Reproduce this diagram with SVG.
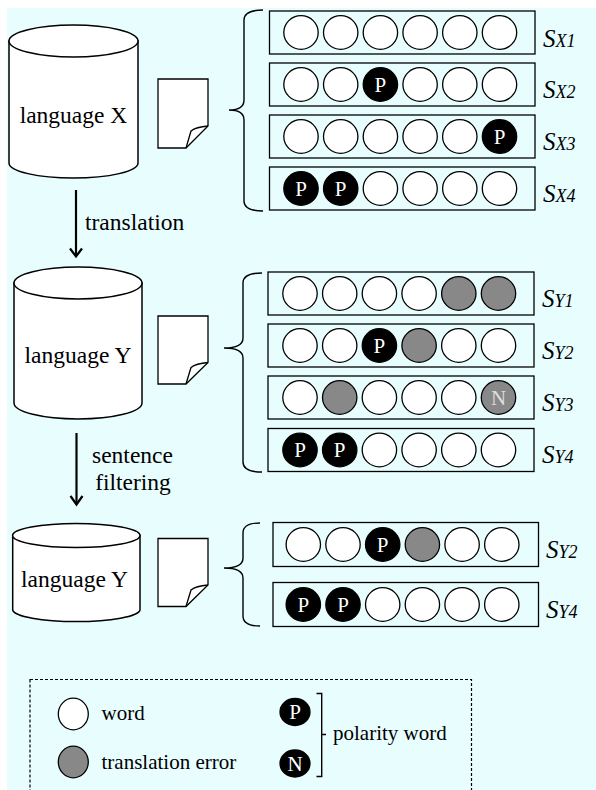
<svg xmlns="http://www.w3.org/2000/svg" xmlns:xlink="http://www.w3.org/1999/xlink" width="596" height="790" viewBox="0 0 596 790">
  <style>
    .bg { fill: #E8FEFE; }
    .db { fill: #FFFFFF; stroke: #000; stroke-width: 1.5; }
    .doc { fill: #FFFFFF; stroke: #000; stroke-width: 1.3; stroke-linejoin: miter; }
    .fold { fill: none; stroke: #000; stroke-width: 1.3; }
    .brace { fill: none; stroke: #000; stroke-width: 1.4; }
    .row { fill: #E8FEFE; stroke: #000; stroke-width: 1.3; }
    .w { fill: #FFFFFF; stroke: #000; stroke-width: 1.3; }
    .g { fill: #888888; stroke: #000; stroke-width: 1.3; }
    .k { fill: #000000; stroke: #000; stroke-width: 1.3; }
    text { font-family: "Liberation Serif", Tinos, "Times New Roman", Times, "Nimbus Roman", "Nimbus Roman No9 L", FreeSerif, "Noto Serif", "DejaVu Serif", Georgia, serif; }
    .t { fill: #000; }
    .big { font-size: 23.5px; }
    .leg { font-size: 21px; }
    .in { font-size: 21px; fill: #FFFFFF; text-anchor: middle; }
    .inN { fill: #DDDDDD; }
    .lbl { font-style: italic; font-size: 25px; fill: #000; }
    .sub { font-size: 18px; }
    .arrow { fill: none; stroke: #000; stroke-width: 2.2; }
  </style>
  <defs>
    <ellipse id="cw" class="w" rx="17.2" ry="16.8"/>
    <ellipse id="cg" class="g" rx="17.2" ry="16.8"/>
    <ellipse id="ck" class="k" rx="17.2" ry="16.8"/>
  </defs>

  <!-- canvas -->
  <rect class="bg" x="7" y="8" width="589" height="782"/>

  <!-- source corpus -->
  <g id="db-x">
    <path class="db" d="M9,41 V163 A64.5,15 0 0 0 138,163 V41 Z"/>
    <ellipse class="db" cx="73.5" cy="41" rx="64.5" ry="16"/>
    <text class="t big" x="73.5" y="123" text-anchor="middle">language X</text>
  </g>
  <g id="doc-x">
    <path class="doc" d="M158,79 H208 V126 L186,148 H158 Z"/>
    <path class="fold" d="M208,126 Q196,127 191,131 L186,148"/>
  </g>
  <g id="brace-x">
    <path class="brace" d="M263,10 Q244,10 244,20 V100 Q244,110 229,110 Q244,110 244,120 V201 Q244,211 263,211"/>
  </g>
  <g id="sent-x">
    <rect class="row" x="269.5" y="11" width="265.5" height="43"/>
    <rect class="row" x="269.5" y="63" width="265.5" height="43"/>
    <rect class="row" x="269.5" y="115" width="265.5" height="43"/>
    <rect class="row" x="269.5" y="167" width="265.5" height="43"/>
    <!-- SX1 -->
    <use xlink:href="#cw" x="301" y="32.5"/><use xlink:href="#cw" x="340.7" y="32.5"/><use xlink:href="#cw" x="380.4" y="32.5"/>
    <use xlink:href="#cw" x="420.1" y="32.5"/><use xlink:href="#cw" x="459.8" y="32.5"/><use xlink:href="#cw" x="499.5" y="32.5"/>
    <!-- SX2 -->
    <use xlink:href="#cw" x="301" y="84.5"/><use xlink:href="#cw" x="340.7" y="84.5"/><use xlink:href="#ck" x="380.4" y="84.5"/>
    <use xlink:href="#cw" x="420.1" y="84.5"/><use xlink:href="#cw" x="459.8" y="84.5"/><use xlink:href="#cw" x="499.5" y="84.5"/>
    <text class="in" x="380.4" y="91.5">P</text>
    <!-- SX3 -->
    <use xlink:href="#cw" x="301" y="136.5"/><use xlink:href="#cw" x="340.7" y="136.5"/><use xlink:href="#cw" x="380.4" y="136.5"/>
    <use xlink:href="#cw" x="420.1" y="136.5"/><use xlink:href="#cw" x="459.8" y="136.5"/><use xlink:href="#ck" x="499.5" y="136.5"/>
    <text class="in" x="499.5" y="143.5">P</text>
    <!-- SX4 -->
    <use xlink:href="#ck" x="301" y="188.5"/><use xlink:href="#ck" x="340.7" y="188.5"/><use xlink:href="#cw" x="380.4" y="188.5"/>
    <use xlink:href="#cw" x="420.1" y="188.5"/><use xlink:href="#cw" x="459.8" y="188.5"/><use xlink:href="#cw" x="499.5" y="188.5"/>
    <text class="in" x="301" y="195.5">P</text><text class="in" x="340.7" y="195.5">P</text>
    <text class="lbl" x="543" y="46.5">S<tspan class="sub">X1</tspan></text>
    <text class="lbl" x="543" y="98">S<tspan class="sub">X2</tspan></text>
    <text class="lbl" x="543" y="150">S<tspan class="sub">X3</tspan></text>
    <text class="lbl" x="543" y="202">S<tspan class="sub">X4</tspan></text>
  </g>

  <!-- translated corpus -->
  <g id="db-y">
    <path class="db" d="M14,283 V403 A64,16 0 0 0 142,403 V283 Z"/>
    <ellipse class="db" cx="78" cy="283" rx="64" ry="16"/>
    <text class="t big" x="78" y="363" text-anchor="middle">language Y</text>
  </g>
  <g id="doc-y">
    <path class="doc" d="M158,316 H208 V362.5 L186,384 H158 Z"/>
    <path class="fold" d="M208,362.5 Q196,363.5 191,367.5 L186,384"/>
  </g>
  <g id="brace-y">
    <path class="brace" d="M262,273 Q243,273 243,283 V338 Q243,348 224,348 Q243,348 243,358 V462 Q243,472 262,472"/>
  </g>
  <g id="sent-y">
    <rect class="row" x="268" y="272" width="266" height="43"/>
    <rect class="row" x="268" y="324" width="266" height="43"/>
    <rect class="row" x="268" y="376" width="266" height="43"/>
    <rect class="row" x="268" y="428.5" width="266" height="43"/>
    <!-- SY1 -->
    <use xlink:href="#cw" x="300" y="293.5"/><use xlink:href="#cw" x="339.7" y="293.5"/><use xlink:href="#cw" x="379.4" y="293.5"/>
    <use xlink:href="#cw" x="419.1" y="293.5"/><use xlink:href="#cg" x="458.8" y="293.5"/><use xlink:href="#cg" x="498.5" y="293.5"/>
    <!-- SY2 -->
    <use xlink:href="#cw" x="300" y="345.5"/><use xlink:href="#cw" x="339.7" y="345.5"/><use xlink:href="#ck" x="379.4" y="345.5"/>
    <use xlink:href="#cg" x="419.1" y="345.5"/><use xlink:href="#cw" x="458.8" y="345.5"/><use xlink:href="#cw" x="498.5" y="345.5"/>
    <text class="in" x="379.4" y="352.5">P</text>
    <!-- SY3 -->
    <use xlink:href="#cw" x="300" y="397.5"/><use xlink:href="#cg" x="339.7" y="397.5"/><use xlink:href="#cw" x="379.4" y="397.5"/>
    <use xlink:href="#cw" x="419.1" y="397.5"/><use xlink:href="#cw" x="458.8" y="397.5"/><use xlink:href="#cg" x="498.5" y="397.5"/>
    <text class="in inN" x="498.5" y="404.5">N</text>
    <!-- SY4 -->
    <use xlink:href="#ck" x="300" y="450"/><use xlink:href="#ck" x="339.7" y="450"/><use xlink:href="#cw" x="379.4" y="450"/>
    <use xlink:href="#cw" x="419.1" y="450"/><use xlink:href="#cw" x="458.8" y="450"/><use xlink:href="#cw" x="498.5" y="450"/>
    <text class="in" x="300" y="457">P</text><text class="in" x="339.7" y="457">P</text>
    <text class="lbl" x="542" y="307">S<tspan class="sub">Y1</tspan></text>
    <text class="lbl" x="542" y="359">S<tspan class="sub">Y2</tspan></text>
    <text class="lbl" x="542" y="411">S<tspan class="sub">Y3</tspan></text>
    <text class="lbl" x="542" y="463">S<tspan class="sub">Y4</tspan></text>
  </g>

  <!-- filtered corpus -->
  <g id="db-y-filtered">
    <path class="db" d="M12.7,535.5 V610 A63.7,12 0 0 0 140,610 V535.5 Z"/>
    <ellipse class="db" cx="76.3" cy="535.5" rx="63.7" ry="12"/>
    <text class="t big" x="74.5" y="586.5" text-anchor="middle">language Y</text>
  </g>
  <g id="doc-y-filtered">
    <path class="doc" d="M158,538.5 H208 V585 L186,606.5 H158 Z"/>
    <path class="fold" d="M208,585 Q196,586 191,590 L186,606.5"/>
  </g>
  <g id="brace-y-filtered">
    <path class="brace" d="M260,523 Q243,523 243,533 V558 Q243,568 224,568 Q243,568 243,578 V616 Q243,626 260,626"/>
  </g>
  <g id="sent-y-filtered">
    <rect class="row" x="273" y="522.5" width="265.5" height="44"/>
    <rect class="row" x="273" y="582.5" width="265.5" height="44"/>
    <!-- SY2 -->
    <use xlink:href="#cw" x="303.3" y="544.5"/><use xlink:href="#cw" x="343" y="544.5"/><use xlink:href="#ck" x="382.7" y="544.5"/>
    <use xlink:href="#cg" x="422.4" y="544.5"/><use xlink:href="#cw" x="462.1" y="544.5"/><use xlink:href="#cw" x="501.8" y="544.5"/>
    <text class="in" x="382.7" y="551.5">P</text>
    <!-- SY4 -->
    <use xlink:href="#ck" x="303.3" y="604.5"/><use xlink:href="#ck" x="343" y="604.5"/><use xlink:href="#cw" x="382.7" y="604.5"/>
    <use xlink:href="#cw" x="422.4" y="604.5"/><use xlink:href="#cw" x="462.1" y="604.5"/><use xlink:href="#cw" x="501.8" y="604.5"/>
    <text class="in" x="303.3" y="611.5">P</text><text class="in" x="343" y="611.5">P</text>
    <text class="lbl" x="546" y="557.5">S<tspan class="sub">Y2</tspan></text>
    <text class="lbl" x="546" y="617.5">S<tspan class="sub">Y4</tspan></text>
  </g>

  <!-- process arrows -->
  <g id="connectors">
    <line class="arrow" x1="76" y1="190" x2="76" y2="256"/>
    <polyline class="arrow" points="70,248.5 76,256.5 82,248.5"/>
    <text class="t big" x="85" y="230">translation</text>
    <line class="arrow" x1="76.5" y1="433" x2="76.5" y2="504"/>
    <polyline class="arrow" points="70.5,496 76.5,504.5 82.5,496"/>
    <text class="t big" x="132.5" y="463" text-anchor="middle">sentence</text>
    <text class="t big" x="133" y="489.5" text-anchor="middle">filtering</text>
  </g>

  <!-- legend -->
  <g id="legend">
    <rect x="30" y="679.5" width="441.5" height="130" fill="none" stroke="#000" stroke-width="1.2" stroke-dasharray="3,2"/>
    <ellipse class="w" cx="73.3" cy="714" rx="15" ry="15.8"/>
    <text class="t leg" x="101.5" y="719.5">word</text>
    <ellipse class="g" cx="73.3" cy="762" rx="15" ry="15.8"/>
    <text class="t leg" x="101.5" y="768.5">translation error</text>
    <ellipse class="k" cx="295" cy="712" rx="15" ry="13.5"/>
    <text class="in" x="295" y="719">P</text>
    <ellipse class="k" cx="295" cy="763.5" rx="15" ry="13.5"/>
    <text class="in" x="295" y="770.5">N</text>
    <path class="brace" d="M316.5,693.5 H321.7 V776.5 H316.5 M321.7,734.5 H326"/>
    <text class="t leg" x="333" y="740">polarity word</text>
  </g>
</svg>
